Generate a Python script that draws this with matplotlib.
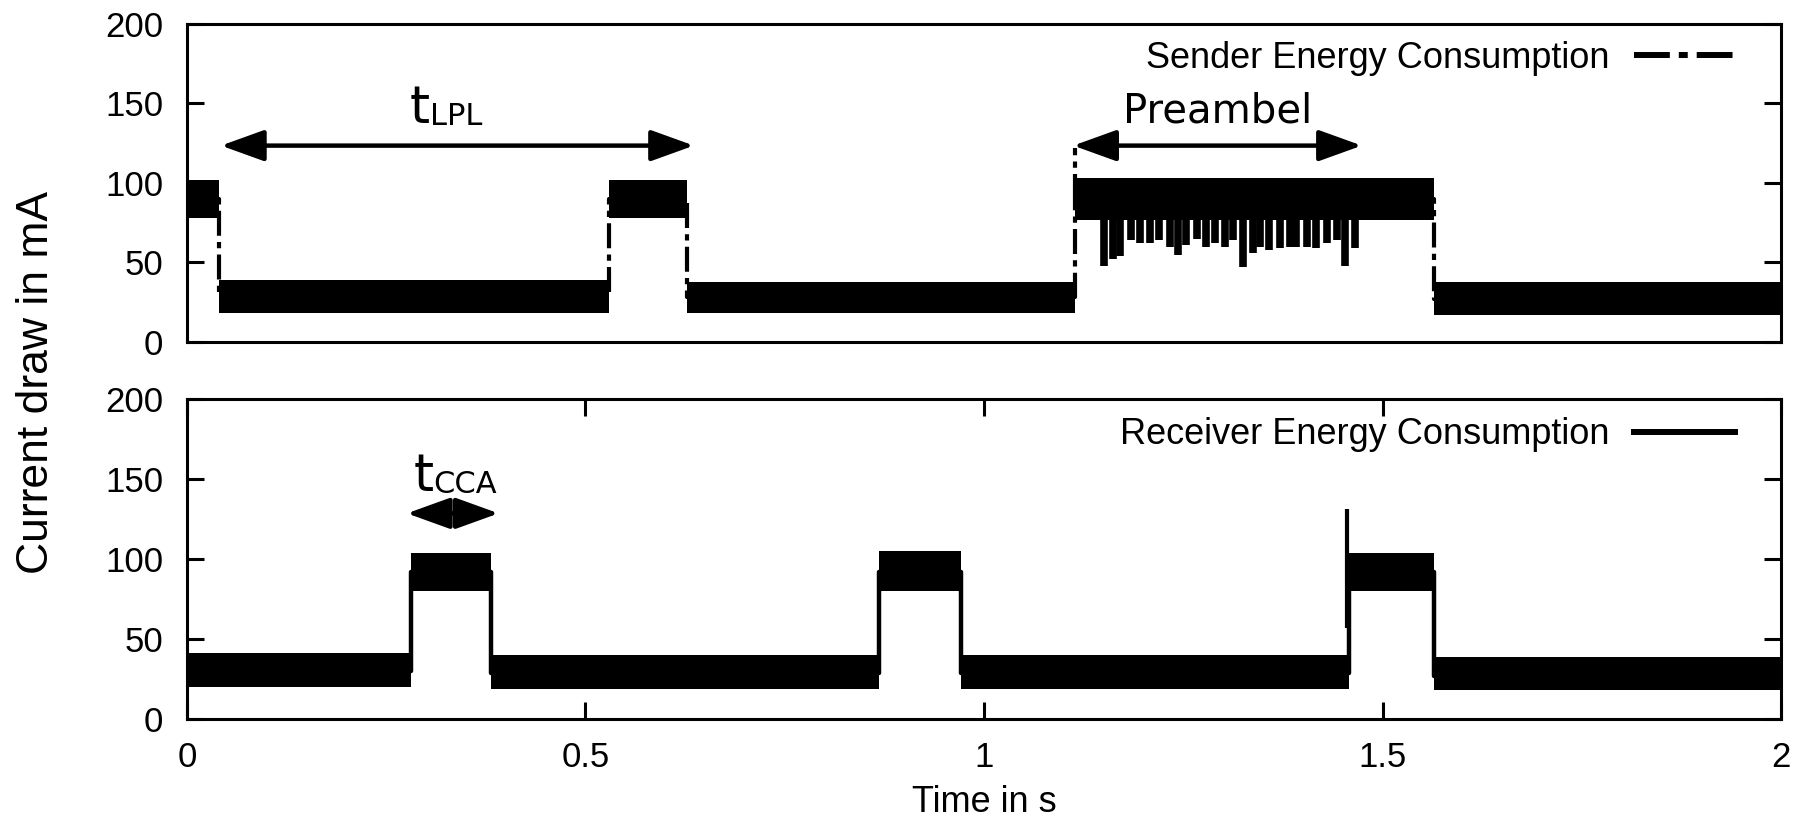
import matplotlib
matplotlib.use("Agg")
import matplotlib.pyplot as plt
from matplotlib.transforms import offset_copy

plt.rcParams['font.family'] = ['Liberation Sans', 'DejaVu Sans']

# ---------------- data ----------------
# Sender: segment edges (s), level (mA), visible band range
sender_edges = [0.0, 0.040, 0.529, 0.627, 1.114, 1.565, 2.0]
sender_mid = [90, 28, 90, 28, 90, 27]
sender_lo = [78, 18, 78, 18, 77, 17]
sender_hi = [102, 39, 102, 38, 103, 38]
sender_spike_t = [1.114]
sender_spike_top = [122]
# downward dips during the preamble (time, minimum value)
preamble_dip_t = [1.150, 1.162, 1.171, 1.185, 1.196, 1.208, 1.219, 1.233,
                  1.244, 1.254, 1.267, 1.279, 1.290, 1.302, 1.313, 1.325,
                  1.338, 1.346, 1.357, 1.371, 1.384, 1.392, 1.405, 1.417,
                  1.430, 1.443, 1.453, 1.466]
preamble_dip_min = [48, 52, 54, 64, 62, 62, 64, 60, 55, 61, 65, 60, 62, 60,
                    64, 47, 56, 60, 58, 59, 60, 60, 60, 59, 62, 64, 48, 59]

# Receiver
recv_edges = [0.0, 0.281, 0.381, 0.868, 0.971, 1.458, 1.565, 2.0]
recv_mid = [30, 92, 29, 92, 29, 92, 27]
recv_lo = [20, 80, 19, 80, 19, 80, 18]
recv_hi = [41, 104, 40, 105, 40, 104, 39]
recv_spike_t = [1.455]
recv_spike_lo = [57]
recv_spike_hi = [131]

yticks = [0, 50, 100, 150, 200]
xticks = [0, 0.5, 1, 1.5, 2]
xticklabels = ['0', '0.5', '1', '1.5', '2']

# annotations: (main, subscript, x_split, y_baseline, x_start, x_end, y_arrow)
ann_top = [('t', 'LPL', 0.305, 137.5, 0.0427, 0.636, 123.5)]
ann_bot = [('t', 'CCA', 0.309, 142.5, 0.276, 0.391, 128.5)]
preamble_text = ('Preambel', 1.293, 138.0, 1.112, 1.474, 123.5)

# ---------------- figure ----------------
fig = plt.figure(figsize=(18.1, 8.27), dpi=100)
ax1 = fig.add_axes([0.1033, 0.5865, 0.8807, 0.3845])
ax2 = fig.add_axes([0.1033, 0.1306, 0.8807, 0.387])


def draw_bands(ax, edges, lo, hi):
    for a, b, l, h in zip(edges[:-1], edges[1:], lo, hi):
        ax.fill_between([a, b], [l, l], [h, h], color='black', lw=0, zorder=3)


sender_dashes = (6, 1.5, 1.5, 1.5)

# Sender panel
draw_bands(ax1, sender_edges, sender_lo, sender_hi)
ax1.vlines(preamble_dip_t, preamble_dip_min, [80] * len(preamble_dip_t),
           color='black', lw=5.5, zorder=3)
line_s, = ax1.plot(sender_edges, sender_mid + [sender_mid[-1]],
                   drawstyle='steps-post', color='black', lw=3,
                   dashes=sender_dashes, zorder=4,
                   label='Sender Energy Consumption')
ax1.vlines(sender_spike_t, [90], sender_spike_top, color='black', lw=3,
           linestyles=[(0, sender_dashes)], zorder=4)

# Receiver panel
draw_bands(ax2, recv_edges, recv_lo, recv_hi)
line_r, = ax2.plot(recv_edges, recv_mid + [recv_mid[-1]],
                   drawstyle='steps-post', color='black', lw=3.2, zorder=4,
                   label='Receiver Energy Consumption')
ax2.vlines(recv_spike_t, recv_spike_lo, recv_spike_hi, color='black', lw=3,
           zorder=4)

for ax in (ax1, ax2):
    ax.set_xlim(0, 2)
    ax.set_ylim(0, 200)
    ax.set_yticks(yticks)
    ax.set_yticklabels([str(v) for v in yticks])
    for s in ax.spines.values():
        s.set_linewidth(2.2)
    ax.tick_params(axis='y', direction='in', length=12, width=2.2,
                   labelsize=25, pad=17, left=True, right=True)

ax1.tick_params(axis='x', bottom=False, top=False, labelbottom=False)
ax2.set_xticks(xticks)
ax2.set_xticklabels(xticklabels)
ax2.tick_params(axis='x', direction='in', length=12, width=2.2,
                labelsize=25, pad=16, top=True, bottom=True)

for ax, line, yfrac in ((ax1, line_s, 0.893), (ax2, line_r, 0.8875)):
    leg = ax.legend(handles=[line], loc='center right',
                    bbox_to_anchor=(0.9711, yfrac),
                    frameon=False, markerfirst=False, fontsize=26,
                    handlelength=2.8, handletextpad=0.68, borderpad=0,
                    borderaxespad=0)
    for ln in leg.get_lines():
        ln.set_linewidth(4.3)

arrow_style = '<|-|>,head_length=1.33,head_width=0.48'


def draw_arrow(ax, xa, xb, ya):
    ax.annotate('', xy=(xb, ya), xytext=(xa, ya),
                arrowprops=dict(arrowstyle=arrow_style, color='black', lw=3.2,
                                shrinkA=0, shrinkB=0, mutation_scale=20),
                zorder=6)


def annotate(ax, items):
    for main, sub, xs, yb, xa, xb, ya in items:
        ax.text(xs, yb, main, ha='right', va='baseline', fontsize=37,
                family='DejaVu Sans', zorder=6)
        ax.text(xs, yb, sub, ha='left', va='baseline', fontsize=22,
                family='DejaVu Sans', zorder=6,
                transform=offset_copy(ax.transData, fig=fig, x=0, y=-1.5,
                                      units='points'))
        draw_arrow(ax, xa, xb, ya)


annotate(ax1, ann_top)
annotate(ax2, ann_bot)
txt, xt, yt, xa, xb, ya = preamble_text
ax1.text(xt, yt, txt, ha='center', va='baseline', fontsize=29,
         family='DejaVu Sans', zorder=6)
draw_arrow(ax1, xa, xb, ya)

fig.text(37 / 1810, 1 - 383 / 827, 'Current draw in mA', rotation=90,
         ha='center', va='center', fontsize=32)
fig.text(984 / 1810, 1 - 802 / 827, 'Time in s', ha='center', va='center',
         fontsize=26)

fig.savefig('out.png', dpi=100)
